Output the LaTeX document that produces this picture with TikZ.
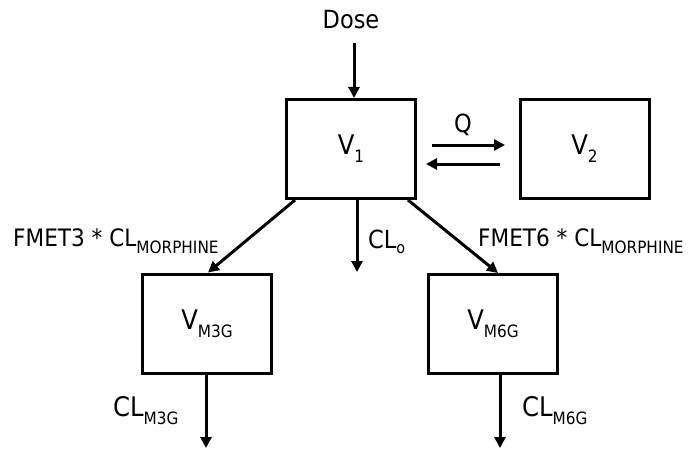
\documentclass[tikz,border=0pt]{standalone}
\usepackage{fontspec}
\setmainfont{DejaVu Sans Condensed}
\usetikzlibrary{arrows.meta}
\newcommand\sbs[3][17]{\raisebox{-#2}{\fontsize{#1}{#1}\selectfont #3}}
\begin{document}
\begin{tikzpicture}[x=1pt,y=-1pt,
  box/.style={draw,line width=3pt,minimum width=129pt,minimum height=99pt,inner sep=0pt,font=\fontsize{27}{29}\selectfont},
  arr/.style={line width=3pt,-{Triangle[length=11pt,width=11pt]}},
  big/.style={font=\fontsize{27}{29}\selectfont,inner sep=0pt},
  mid/.style={font=\fontsize{25}{27}\selectfont,inner sep=0pt},
  sm/.style={font=\fontsize{24}{26}\selectfont,inner sep=0pt}]
\useasboundingbox (0,0) rectangle (691,452);
% boxes
\node[box] (v1) at (351,149) {V\sbs{8pt}{1}};
\node[box] (v2) at (584.5,148.5) {V\sbs{8pt}{2}};
\node[box] (vm3) at (207,323.5) {V\sbs{8pt}{M3G}};
\node[box] (vm6) at (493,324) {V\sbs{8pt}{M6G}};
% labels
\node[mid,anchor=base] (dose) at (351,29) {Dose};
\node[mid,anchor=base] (q) at (463,132) {Q};
\node[mid,anchor=base west] (clo) at (368,248) {CL\sbs[16]{5pt}{o}};
\node[sm,anchor=base west] (f3) at (13,246) {FMET3 * CL\sbs[17]{7pt}{MORPHINE}};
\node[sm,anchor=base west] (f6) at (478,246) {FMET6 * CL\sbs[17]{7pt}{MORPHINE}};
\node[big,anchor=base west] (cl3) at (113,416) {CL\sbs{8pt}{M3G}};
\node[big,anchor=base west] (cl6) at (522,416) {CL\sbs{8pt}{M6G}};
% free ends
\coordinate (qa1) at (432,145);
\coordinate (qa2) at (505,145);
\coordinate (qb1) at (500,164);
\coordinate (qb2) at (426,164);
\coordinate (eo) at (357,272);
\coordinate (e3) at (206,448);
\coordinate (e6) at (500,448);
\coordinate (ed) at (354,43);
% connectors
\draw[arr] (ed) -- (ed |- v1.north);
\draw[arr] (qa1) -- (qa2);
\draw[arr] (qb1) -- (qb2);
\draw[arr] (v1.south -| eo) -- (eo);
\draw[arr] ([xshift=10pt]v1.south west) -- ([xshift=1pt]vm3.north);
\draw[arr] ([xshift=-9pt]v1.south east) -- ([xshift=5pt]vm6.north);
\draw[arr] (vm3.south -| e3) -- (e3);
\draw[arr] (vm6.south -| e6) -- (e6);
\end{tikzpicture}
\end{document}
